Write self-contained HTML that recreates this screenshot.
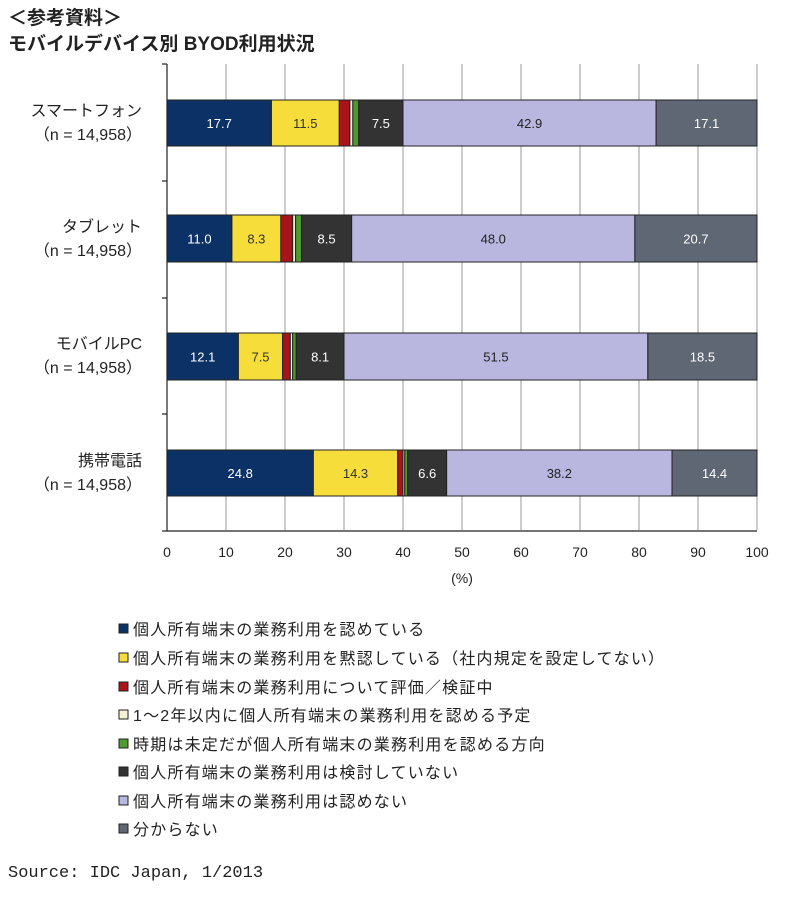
<!DOCTYPE html>
<html><head><meta charset="utf-8"><style>
body{margin:0;background:#fff;width:800px;height:898px;overflow:hidden;font-family:"Liberation Sans","Noto Sans CJK JP",sans-serif}
</style></head><body>
<svg width="800" height="898" xmlns="http://www.w3.org/2000/svg" font-family="Liberation Sans, Noto Sans CJK JP, sans-serif">
<text x="8" y="24" font-size="19" font-weight="bold" fill="#222">＜参考資料＞</text>
<text x="8" y="50" font-size="19" font-weight="bold" fill="#222">モバイルデバイス別 BYOD利用状況</text>
<g stroke="#999" stroke-width="1">
<line x1="226" y1="64" x2="226" y2="530"/><line x1="285" y1="64" x2="285" y2="530"/><line x1="344" y1="64" x2="344" y2="530"/><line x1="403" y1="64" x2="403" y2="530"/><line x1="462" y1="64" x2="462" y2="530"/><line x1="521" y1="64" x2="521" y2="530"/><line x1="580" y1="64" x2="580" y2="530"/><line x1="639" y1="64" x2="639" y2="530"/><line x1="698" y1="64" x2="698" y2="530"/><line x1="757" y1="64" x2="757" y2="530"/>
</g>
<g stroke="#222" stroke-width="1.2"><line x1="167" y1="64" x2="167" y2="531"/><line x1="162" y1="64" x2="167" y2="64"/><line x1="162" y1="181" x2="167" y2="181"/><line x1="162" y1="298" x2="167" y2="298"/><line x1="162" y1="414" x2="167" y2="414"/><line x1="162" y1="531" x2="167" y2="531"/>
<line x1="167" y1="531" x2="757" y2="531"/>
</g>
<g id="bars" stroke="#222" stroke-width="1"></g>
<g font-size="14" fill="#222" text-anchor="middle">
<text x="167" y="557">0</text><text x="226" y="557">10</text><text x="285" y="557">20</text><text x="344" y="557">30</text><text x="403" y="557">40</text><text x="462" y="557">50</text><text x="521" y="557">60</text><text x="580" y="557">70</text><text x="639" y="557">80</text><text x="698" y="557">90</text><text x="757" y="557">100</text>
<text x="462" y="583">(%)</text>
</g>
<g font-size="16" fill="#222" text-anchor="end">
<text x="142" y="116">スマートフォン</text><text x="142" y="140">（n = 14,958）</text>
<text x="142" y="232">タブレット</text><text x="142" y="256">（n = 14,958）</text>
<text x="142" y="349">モバイルPC</text><text x="142" y="373">（n = 14,958）</text>
<text x="142" y="466">携帯電話</text><text x="142" y="490">（n = 14,958）</text>
</g>
<g font-size="16" fill="#222" stroke="#222" stroke-width="1" letter-spacing="1.2">
<rect x="119" y="624" width="9" height="9" fill="#0c3166"/><text x="133" y="635" stroke="none">個人所有端末の業務利用を認めている</text>
<rect x="119" y="653" width="9" height="9" fill="#f6dd3a"/><text x="133" y="664" stroke="none">個人所有端末の業務利用を黙認している（社内規定を設定してない）</text>
<rect x="119" y="682" width="9" height="9" fill="#a8141a"/><text x="133" y="693" stroke="none">個人所有端末の業務利用について評価／検証中</text>
<rect x="119" y="710" width="9" height="9" fill="#f4f1d4"/><text x="133" y="721" stroke="none">1～2年以内に個人所有端末の業務利用を認める予定</text>
<rect x="119" y="739" width="9" height="9" fill="#4e9a2e"/><text x="133" y="750" stroke="none">時期は未定だが個人所有端末の業務利用を認める方向</text>
<rect x="119" y="767" width="9" height="9" fill="#333"/><text x="133" y="778" stroke="none">個人所有端末の業務利用は検討していない</text>
<rect x="119" y="796" width="9" height="9" fill="#b9b7e0"/><text x="133" y="807" stroke="none">個人所有端末の業務利用は認めない</text>
<rect x="119" y="824" width="9" height="9" fill="#5f6674"/><text x="133" y="835" stroke="none">分からない</text>
</g>
<text x="8" y="877" font-size="17" fill="#222" font-family="Liberation Mono, DejaVu Sans Mono, monospace">Source: IDC Japan, 1/2013</text>
<g id="labels" font-size="13" text-anchor="middle"></g>
</svg>
<script>
var cols=["#0c3166","#f6dd3a","#a8141a","#f4f1d4","#4e9a2e","#333333","#b9b7e0","#5f6674"];
var tc=["#fff","#333",null,null,null,"#fff","#222","#fff"];
var data=[[100,146,[17.7,11.5,1.8,0.5,1.0,7.5,42.9,17.1]],[215,262,[11.0,8.3,2.0,0.5,1.0,8.5,48.0,20.7]],[333,380,[12.1,7.5,1.3,0.4,0.6,8.1,51.5,18.5]],[450,496,[24.8,14.3,0.9,0.3,0.5,6.6,38.2,14.4]]];
var ns="http://www.w3.org/2000/svg",B=document.getElementById("bars"),L=document.getElementById("labels");
data.forEach(function(d){var x=167,s=5.9;d[2].forEach(function(v,i){var w=v*s;var r=document.createElementNS(ns,"rect");r.setAttribute("x",x);r.setAttribute("y",d[0]);r.setAttribute("width",w);r.setAttribute("height",d[1]-d[0]);r.setAttribute("fill",cols[i]);B.appendChild(r);
if(tc[i]){var t=document.createElementNS(ns,"text");t.setAttribute("x",x+w/2);t.setAttribute("y",(d[0]+d[1])/2+5);t.setAttribute("fill",tc[i]);t.textContent=v.toFixed(1);L.appendChild(t);}x+=w;});});
</script>
</body></html>
